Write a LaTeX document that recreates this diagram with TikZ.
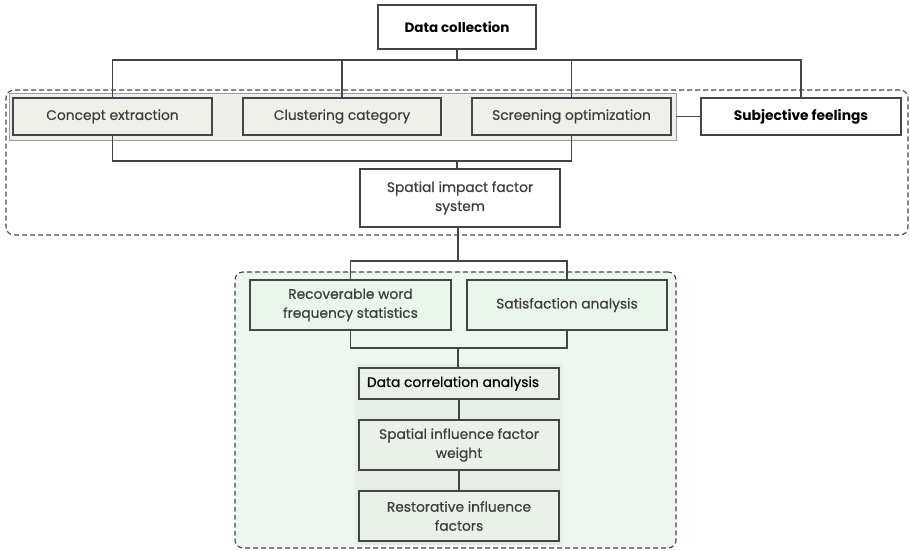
\documentclass[tikz,border=0pt]{standalone}
\usepackage{fontspec}
\setmainfont{Poppins}[FakeBold=0.5, BoldFeatures={FakeBold=0}]
\definecolor{ln}{HTML}{454545}
\definecolor{tx}{HTML}{3C3C3C}
\definecolor{grayfill}{HTML}{F0F0EB}
\definecolor{stripfill}{HTML}{EEEEEA}
\definecolor{stripline}{HTML}{9A9A9A}
\definecolor{greenbg}{HTML}{EDF7F0}
\definecolor{greenbox}{HTML}{EAF6EC}
\definecolor{greenstrip}{HTML}{E5EEE6}
\definecolor{greenbox2}{HTML}{E9F1E9}
\begin{document}
\begin{tikzpicture}[x=1pt,y=-1pt,
  every node/.style={inner sep=0pt, outer sep=0pt},
  box/.style={draw=ln, line width=1.3pt, align=center, text=tx, font=\fontsize{13.8}{19}\selectfont},
  graybox/.style={box, fill=grayfill},
  whitebox/.style={box, fill=white},
  greenb/.style={box, fill=greenbox},
  greenb2/.style={box, fill=greenbox2},
  conn/.style={draw=ln, line width=1.3pt},
  dashbox/.style={draw=ln, line width=1.1pt, dash pattern=on 5pt off 3pt, rounded corners=8pt}]
\useasboundingbox (0,0) rectangle (910,551);
% dashed group 1
\node[dashbox, minimum width=902pt, minimum height=145pt] (g1) at (457,162.5) {};
% dashed group 2
\node[dashbox, fill=greenbg, minimum width=441pt, minimum height=276pt] (g2) at (455.5,410) {};
% strips
\node[draw=stripline, fill=stripfill, line width=0.8pt, minimum width=667pt, minimum height=47pt] (s1) at (342.5,116.5) {};
\node[fill=greenstrip, minimum width=208pt, minimum height=181pt] (s2) at (459,454.5) {};
% nodes
\node[whitebox, minimum width=158pt, minimum height=44pt, font=\fontsize{13.5}{19}\selectfont\bfseries, text=black] (dc) at (457,27) {Data collection};
\node[graybox, minimum width=199pt, minimum height=37pt] (ce) at (112.5,116.5) {Concept extraction};
\node[graybox, minimum width=198pt, minimum height=37pt] (cc) at (342,116.5) {Clustering category};
\node[graybox, minimum width=199pt, minimum height=37pt] (so) at (571.5,116.5) {Screening optimization};
\node[whitebox, minimum width=200pt, minimum height=37pt, font=\fontsize{13.8}{19}\selectfont\bfseries, text=black] (sf) at (801,116.5) {Subjective feelings};
\node[whitebox, minimum width=200pt, minimum height=58pt] (sp) at (460,198) {Spatial impact factor\\system};
\node[greenb, minimum width=201pt, minimum height=50pt] (rw) at (350.5,305) {Recoverable word\\frequency statistics};
\node[greenb, minimum width=200pt, minimum height=50pt] (sa) at (567,305) {Satisfaction analysis};
\node[greenb2, minimum width=200pt, minimum height=31pt, text=black] (dca) at (459,383.5) {Data correlation analysis\hspace*{12pt}};
\node[greenb2, minimum width=200pt, minimum height=50pt] (sifw) at (459,445) {Spatial influence factor\\weight};
\node[greenb2, minimum width=200pt, minimum height=50pt] (rif) at (459,516) {Restorative influence\\factors};
% bus coordinates
\coordinate (b1) at (457,60);
\coordinate (b2) at (457,161);
\coordinate (b3) at (458,261);
\coordinate (b4) at (458,348);
% connectors
\draw[conn] (dc.south) -- (b1);
\draw[conn] (ce.north) |- (b1);
\draw[conn] (cc.north) |- (b1);
\draw[conn] (so.north) |- (b1);
\draw[conn] (sf.north) |- (b1);
\draw[conn] (s1.east) -- (sf.west);
\draw[conn] (ce.south) |- (b2);
\draw[conn] (so.south) |- (b2);
\draw[conn] (b2) -- (b2 |- sp.north);
\draw[conn] (b3 |- sp.south) -- (b3);
\draw[conn] (rw.north) |- (b3);
\draw[conn] (sa.north) |- (b3);
\draw[conn] (rw.south) |- (b4);
\draw[conn] (sa.south) |- (b4);
\draw[conn] (b4) -- (b4 |- dca.north);
\draw[conn] (dca) -- (sifw);
\draw[conn] (sifw) -- (rif);
\end{tikzpicture}
\end{document}
